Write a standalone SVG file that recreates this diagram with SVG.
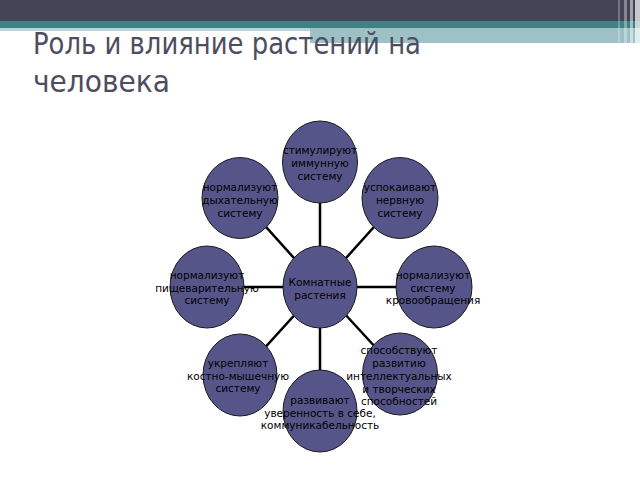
<svg xmlns="http://www.w3.org/2000/svg" width="640" height="480" viewBox="0 0 640 480">
<style>
.title{font-family:"DejaVu Sans","Liberation Sans",sans-serif;font-size:30px;fill:#4d4d60}
.node ellipse{fill:#55558a;stroke:#1a1a1a;stroke-width:1}
.node text{font-family:"DejaVu Sans","Liberation Sans",sans-serif;font-size:10.5px;fill:#000;text-anchor:middle}
#connectors line{stroke:#000;stroke-width:2.5}
</style>
<rect width="640" height="480" fill="#fff"/>
<g id="header">
<rect x="0" y="0" width="640" height="21" fill="#444457"/>
<rect x="0" y="21" width="640" height="7" fill="#418084"/>
<rect x="0" y="28" width="310" height="3" fill="#b9d3d5"/>
<rect x="310" y="28" width="330" height="15" fill="#9dc1c4"/>
<rect x="618" y="0" width="2" height="43" fill="#fff" opacity="0.25"/>
<rect x="624" y="0" width="3" height="43" fill="#fff" opacity="0.35"/>
<rect x="630" y="0" width="3" height="43" fill="#fff" opacity="0.5"/>
<rect x="635" y="0" width="5" height="43" fill="#fff" opacity="0.7"/>
</g>
<text class="title" x="33" y="54" textLength="388" lengthAdjust="spacingAndGlyphs">Роль и влияние растений на</text>
<text class="title" x="33" y="92" textLength="137" lengthAdjust="spacingAndGlyphs">человека</text>
<g id="connectors">
<line x1="320" y1="287" x2="320" y2="162"/>
<line x1="320" y1="287" x2="240" y2="198"/>
<line x1="320" y1="287" x2="400" y2="198"/>
<line x1="320" y1="287" x2="207" y2="287"/>
<line x1="320" y1="287" x2="434" y2="287"/>
<line x1="320" y1="287" x2="240" y2="375"/>
<line x1="320" y1="287" x2="400" y2="374"/>
<line x1="320" y1="287" x2="320" y2="411"/>
</g>
<g id="n-top" class="node"><ellipse cx="320" cy="162" rx="37.5" ry="41"/>
<text x="320" y="154">стимулируют</text><text x="320" y="167">иммунную</text><text x="320" y="180">систему</text></g>
<g id="n-ul" class="node"><ellipse cx="240" cy="198" rx="38" ry="40.5"/>
<text x="240" y="191">нормализуют</text><text x="240" y="204">дыхательную</text><text x="240" y="217">систему</text></g>
<g id="n-ur" class="node"><ellipse cx="400" cy="198" rx="38" ry="40.5"/>
<text x="400" y="191">успокаивают</text><text x="400" y="204">нервную</text><text x="400" y="217">систему</text></g>
<g id="n-l" class="node"><ellipse cx="207" cy="287" rx="37" ry="41"/>
<text x="207" y="279">нормализуют</text><text x="207" y="292">пищеварительную</text><text x="207" y="304">систему</text></g>
<g id="n-r" class="node"><ellipse cx="434" cy="287" rx="38" ry="41"/>
<text x="433" y="279">нормализуют</text><text x="433" y="292">систему</text><text x="433" y="304">кровообращения</text></g>
<g id="n-c" class="node"><ellipse cx="320" cy="287" rx="37" ry="41"/>
<text x="320" y="286">Комнатные</text><text x="320" y="299">растения</text></g>
<g id="n-ll" class="node"><ellipse cx="240" cy="375" rx="37" ry="41"/>
<text x="238" y="367">укрепляют</text><text x="238" y="380">костно-мышечную</text><text x="238" y="392">систему</text></g>
<g id="n-lr" class="node"><ellipse cx="400" cy="374" rx="37.5" ry="41"/>
<text x="399" y="354">способствуют</text><text x="399" y="367">развитию</text><text x="399" y="380">интеллектуальных</text><text x="399" y="393">и творческих</text><text x="399" y="405">способностей</text></g>
<g id="n-b" class="node"><ellipse cx="320" cy="411" rx="37" ry="41"/>
<text x="320" y="404">развивают</text><text x="320" y="417">уверенность в себе,</text><text x="320" y="429">коммуникабельность</text></g>
</svg>
